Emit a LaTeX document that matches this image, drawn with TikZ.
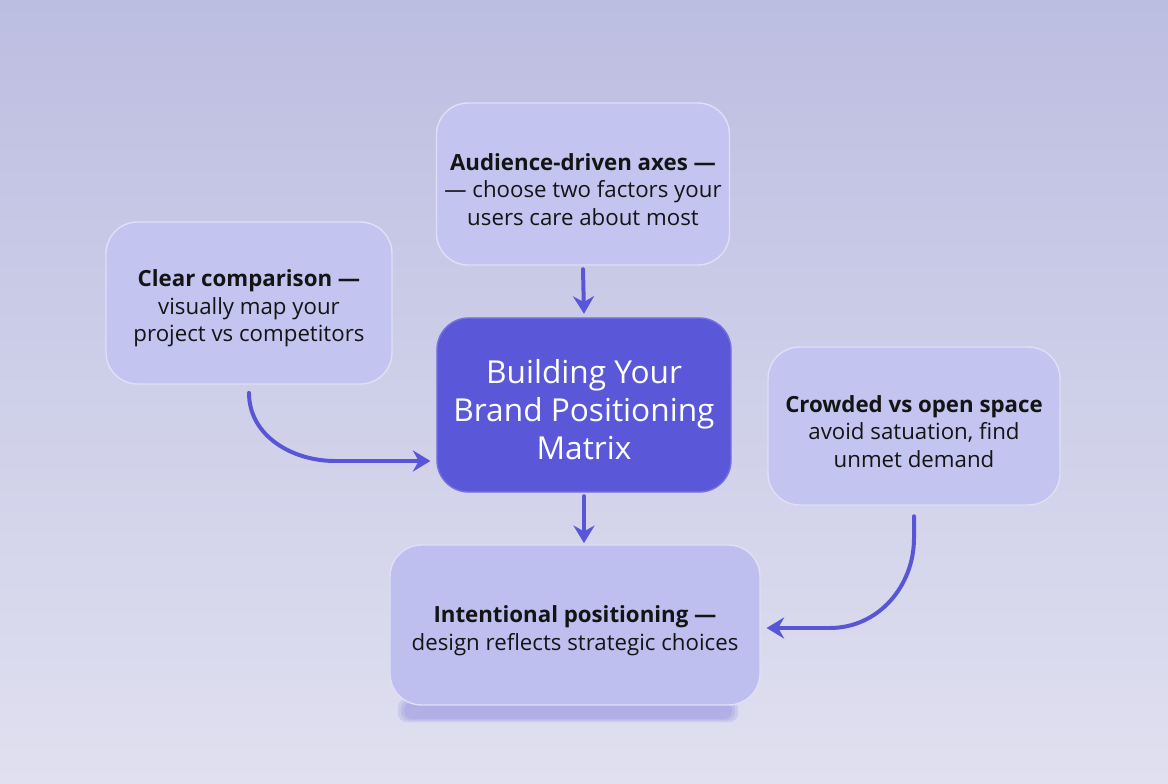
\documentclass[tikz,border=0pt]{standalone}
\usepackage{fontspec}
\setmainfont{Open Sans}
\usetikzlibrary{arrows.meta}
\definecolor{MatrixBgTop}{RGB}{188,190,225}
\definecolor{MatrixBgBot}{RGB}{224,224,240}
\definecolor{MatrixCard}{RGB}{196,196,240}
\definecolor{MatrixCore}{RGB}{90,88,216}
\definecolor{MatrixArrow}{RGB}{88,86,214}
\newcommand\cardlift[1]{\rule{0pt}{#1}}

\begin{document}
\begin{tikzpicture}[x=0.03cm,y=-0.03cm,
  card/.style n args={2}{rectangle,rounded corners=0.95cm,fill=MatrixCard,draw=white!45!MatrixCard,line width=1.2pt,minimum width=#1cm,minimum height=#2cm,align=center,text=black!92,font=\fontsize{19}{23.5}\selectfont},
  core/.style={card={8.82}{5.22},fill=MatrixCore,draw=MatrixCore!85!white,text=white,font=\fontsize{27}{32.5}\selectfont},
  flow/.style={draw=MatrixArrow,line width=3.4pt,line cap=round,-{Stealth[length=15pt,width=18pt,inset=5pt]}}]
\fill[top color=MatrixBgTop,bottom color=MatrixBgBot] (0,0) rectangle (1168,784);
\useasboundingbox (0,0) rectangle (1168,784);
% soft blue strip under the last card
\foreach \g in {0,3,6}
  \fill[MatrixCore,opacity=0.13,rounded corners=0.25cm] (404-\g,702-\g/2) rectangle (732+\g,719+\g/2);
% the five cards
\node[card={8.79}{4.86}](aud) at (583,184) {\cardlift{24pt}{\bfseries Audience-driven axes ---}\\--- choose two factors your\\users care about most};
\node[card={8.58}{4.86}](cmp) at (249,303) {\cardlift{24pt}{\bfseries Clear comparison ---}\\visually map your\\project vs competitors};
\node[core](core) at (584,405) {\cardlift{29pt}Building Your\\Brand Positioning\\Matrix};
\node[card={8.76}{4.74}](crowd) at (914,426) {\cardlift{24pt}{\bfseries Crowded vs open space}\\avoid satuation, find\\unmet demand};
\node[card={11.1}{4.8},fill=MatrixCard!94!MatrixCore](intent) at (575,625) {\cardlift{24pt}{\bfseries Intentional positioning ---}\\design reflects strategic choices};
\coordinate (cmp-turn) at (335,461);
\coordinate (crowd-turn) at (830,628);
% connectors
\draw[flow] ([yshift=-3pt]aud.south) -- ([yshift=3pt]core.north);
\draw[flow] ([yshift=-3pt]core.south) -- ([yshift=1pt]core.south |- intent.north);
\draw[flow] ([yshift=-7pt]cmp.south) to[out=-90,in=180] (cmp-turn) -- ([xshift=-5pt]cmp-turn -| core.west);
\draw[flow] ([yshift=-9pt]crowd.south) -- ++(0,22) to[out=-90,in=0] (crowd-turn) -- ([xshift=5pt]crowd-turn -| intent.east);
\end{tikzpicture}
\end{document}
